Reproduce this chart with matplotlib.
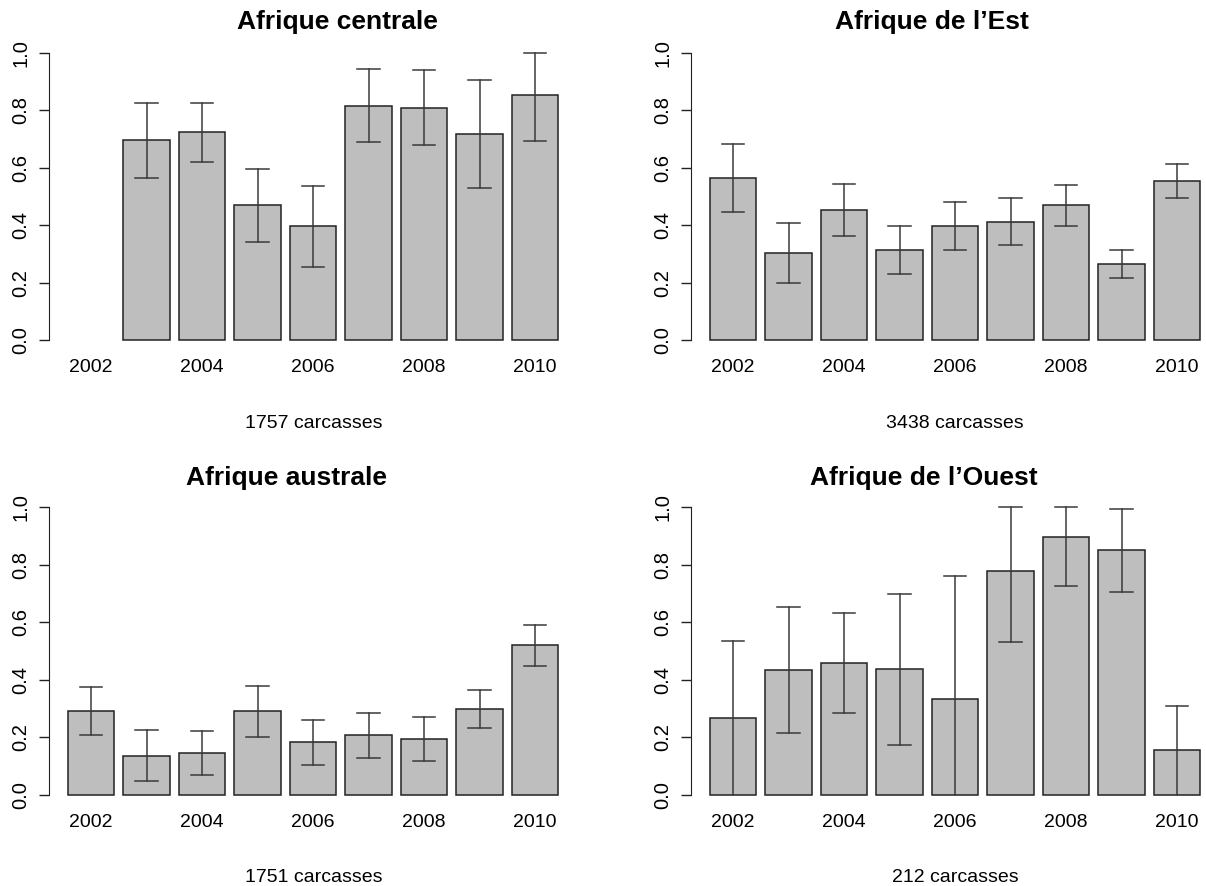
import numpy as np
import matplotlib
matplotlib.use("Agg")
import matplotlib.pyplot as plt

plt.rcParams["font.family"] = ["Liberation Sans", "DejaVu Sans"]

years = list(range(2002, 2011))

# proportions and error bar limits (nan = no bar)
centrale = [np.nan, 0.696, 0.724, 0.469, 0.396, 0.816, 0.810, 0.718, 0.855]
centrale_lo = [np.nan, 0.564, 0.619, 0.343, 0.256, 0.689, 0.679, 0.528, 0.692]
centrale_hi = [np.nan, 0.827, 0.827, 0.597, 0.537, 0.943, 0.940, 0.906, 1.0]

est = [0.564, 0.304, 0.452, 0.315, 0.396, 0.412, 0.469, 0.265, 0.553]
est_lo = [0.446, 0.200, 0.361, 0.230, 0.314, 0.330, 0.397, 0.216, 0.495]
est_hi = [0.684, 0.408, 0.544, 0.397, 0.481, 0.494, 0.540, 0.314, 0.612]

australe = [0.293, 0.137, 0.147, 0.290, 0.183, 0.207, 0.195, 0.298, 0.520]
australe_lo = [0.207, 0.050, 0.071, 0.200, 0.105, 0.130, 0.119, 0.231, 0.449]
australe_hi = [0.376, 0.227, 0.223, 0.378, 0.262, 0.285, 0.271, 0.364, 0.590]

ouest = [0.266, 0.435, 0.459, 0.437, 0.333, 0.778, 0.895, 0.849, 0.155]
ouest_lo = [0.0, 0.215, 0.286, 0.174, 0.0, 0.530, 0.724, 0.705, 0.0]
ouest_hi = [0.536, 0.652, 0.631, 0.699, 0.760, 1.0, 1.0, 0.993, 0.310]

titles = ["Afrique centrale", "Afrique de l\u2019Est", "Afrique australe", "Afrique de l\u2019Ouest"]
counts = ["1757 carcasses", "3438 carcasses", "1751 carcasses", "212 carcasses"]

W, H = 1206, 886
fig = plt.figure(figsize=(W / 100, H / 100), dpi=100)

# pixel layout: y-axis x, 2002 centre x, right edge, top (1.0) y, bottom (0.0) y,
# title x, title y, count label x, count label y
panels = [
    (centrale, centrale_lo, centrale_hi, 49, 91, 568, 53, 340, 337, 22, 314, 423),
    (est, est_lo, est_hi, 691, 733, 1205, 53, 340, 932, 22, 955, 423),
    (australe, australe_lo, australe_hi, 49, 91, 568, 507, 795, 287, 478, 314, 877),
    (ouest, ouest_lo, ouest_hi, 691, 733, 1205, 507, 795, 924, 478, 955, 877),
]
step = 55.5  # px per year

for i, (vals, lo, hi, ax_x, c0, right, top, bot, tx, ty, cx, cy) in enumerate(panels):
    ax = fig.add_axes([ax_x / W, 1 - bot / H, (right - ax_x) / W, (bot - top) / H])
    ax.set_xlim(2002 - (c0 - ax_x) / step, 2002 + (right - c0) / step)
    ax.set_ylim(0, 1)
    v = np.array(vals, dtype=float)
    ok = ~np.isnan(v)
    x = np.array(years)
    ax.bar(x[ok], v[ok], width=1 / 1.2, color="#bebebe", edgecolor="#222222", linewidth=1.1, clip_on=False)
    for xi, l, h in zip(x[ok], np.array(lo)[ok], np.array(hi)[ok]):
        ax.plot([xi, xi], [l, h], color="#3a3a3a", lw=1.1, clip_on=False)
        ax.plot([xi - 0.2, xi + 0.2], [h, h], color="#3a3a3a", lw=1.1, clip_on=False)
        if l > 0:
            ax.plot([xi - 0.2, xi + 0.2], [l, l], color="#3a3a3a", lw=1.1, clip_on=False)
    for s in ["top", "right", "bottom"]:
        ax.spines[s].set_visible(False)
    ax.spines["left"].set_bounds(0, 1)
    ax.spines["left"].set_color("#222222")
    ax.set_yticks(np.arange(0, 1.01, 0.2))
    ax.set_yticklabels(["%.1f" % t for t in np.arange(0, 1.01, 0.2)], rotation=90, va="center")
    ax.tick_params(axis="y", length=7.2, width=1, pad=6, labelsize=14.5, color="#222222")
    ax.set_xticks(years[::2])
    ax.set_xticklabels([str(y) for y in years[::2]])
    ax.tick_params(axis="x", length=0, pad=13.5, labelsize=14)
    ax.patch.set_alpha(0)
    fig.text(tx / W, 1 - ty / H, titles[i], fontsize=19, fontweight="bold", ha="center", va="center")
    fig.text(cx / W, 1 - cy / H, counts[i], fontsize=14, ha="center", va="center")

fig.savefig("out.png", dpi=100)
